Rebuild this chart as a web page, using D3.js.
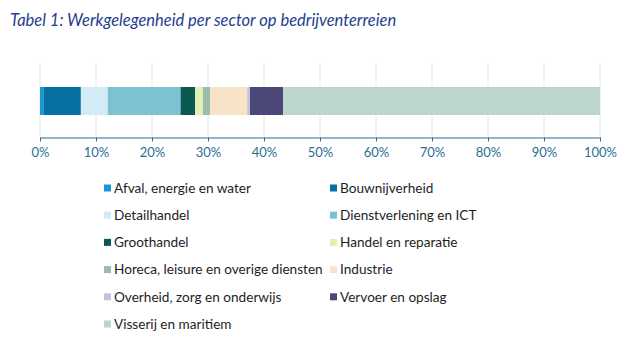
<!DOCTYPE html>
<html>
<head>
<meta charset="utf-8">
<script src="https://cdn.jsdelivr.net/npm/d3@7"></script>
<style>
  body { margin: 0; background: #fff; }
  text { font-family: Lato, "Open Sans", sans-serif; }
</style>
</head>
<body>
<script>
// chart size
var width = 637;
var height = 342;

// sectors, share of jobs in %
var sectors = ["Afval, energie en water", "Bouwnijverheid", "Detailhandel", "Dienstverlening en ICT",
               "Groothandel", "Handel en reparatie", "Horeca, leisure en overige diensten", "Industrie",
               "Overheid, zorg en onderwijs", "Vervoer en opslag", "Visserij en maritiem"];
var shares = [0.7, 6.6, 4.8, 13.0, 2.6, 1.4, 1.3, 6.6, 0.5, 5.9, 56.6];
var colors = ["#1b98d3", "#0670a3", "#d3ebf7", "#7cc2d2", "#0a5a52", "#e1f1b2", "#9ebcad",
              "#f8e3c6", "#c5c2da", "#4b4879", "#bdd5cf"];
var ticks = [0, 10, 20, 30, 40, 50, 60, 70, 80, 90, 100];

var svg = d3.select("body").append("svg")
    .attr("width", width)
    .attr("height", height);

// title
svg.append("text")
    .attr("x", 10)
    .attr("y", 26)
    .style("font-style", "italic")
    .style("font-size", "16.5px")
    .style("fill", "#1f3e8e")
    .text("Tabel 1: Werkgelegenheid per sector op bedrijventerreien");

var x = d3.scaleLinear().domain([0, 100]).range([40, 600]);

// gridlines
svg.selectAll("line.grid")
    .data(ticks)
    .enter()
    .append("line")
    .attr("class", "grid")
    .attr("x1", function(d) { return x(d); })
    .attr("x2", function(d) { return x(d); })
    .attr("y1", 63)
    .attr("y2", 137)
    .style("stroke", "#dce9f1")
    .style("stroke-width", 1);

// stacked bar
var stack = [];
var start = 0;
for (var i = 0; i < shares.length; i++) {
    stack.push({ x0: start, x1: start + shares[i], color: colors[i] });
    start += shares[i];
}

svg.selectAll("rect.seg")
    .data(stack)
    .enter()
    .append("rect")
    .attr("class", "seg")
    .attr("x", function(d) { return x(d.x0); })
    .attr("width", function(d) { return x(d.x1) - x(d.x0); })
    .attr("y", 87)
    .attr("height", 28)
    .style("fill", function(d) { return d.color; });

// axis
var axis = svg.append("g")
    .attr("transform", "translate(0,137.5)")
    .call(d3.axisBottom(x).tickValues(ticks).tickSize(4).tickSizeOuter(0)
          .tickFormat(function(d) { return d + "%"; }));
axis.select(".domain").style("stroke", "#2d6f8f");
axis.selectAll(".tick line").style("stroke", "#2d6f8f");
axis.selectAll(".tick text")
    .attr("y", 10)
    .style("font-family", "Lato, sans-serif")
    .style("font-size", "13px")
    .style("fill", "#2b6f95");

// legend in two columns
var legend = svg.selectAll("g.leg")
    .data(sectors)
    .enter()
    .append("g")
    .attr("class", "leg")
    .attr("transform", function(d, i) {
        return "translate(" + (i % 2 == 0 ? 104 : 330) + "," + (188 + Math.floor(i / 2) * 27.2) + ")";
    });

legend.append("rect")
    .attr("x", 0)
    .attr("y", -3.5)
    .attr("width", 7)
    .attr("height", 7)
    .style("fill", function(d, i) { return colors[i]; });

legend.append("text")
    .attr("x", 10)
    .attr("y", 0)
    .attr("dy", "0.35em")
    .style("font-size", "13.6px")
    .style("fill", "#1e1e1e")
    .text(function(d) { return d; });
</script>
</body>
</html>
